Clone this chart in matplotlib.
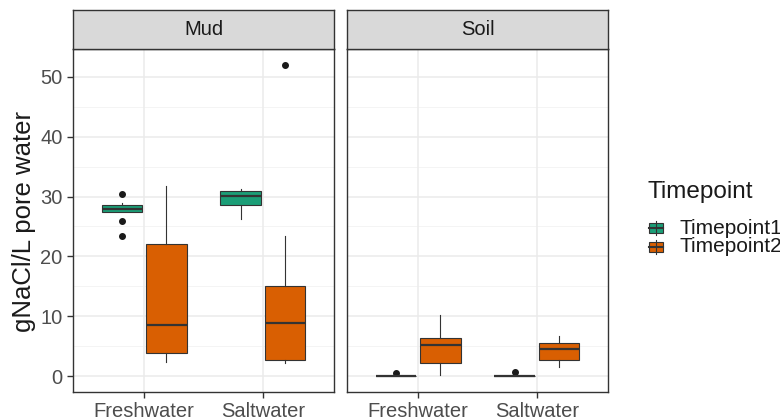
import numpy as np
import matplotlib.pyplot as plt

plt.rcParams['font.family'] = ['Liberation Sans', 'DejaVu Sans']

# box summaries read per facet / site / timepoint
sites = ['Freshwater', 'Saltwater']
facets = ['Mud', 'Soil']
timepoints = ['Timepoint1', 'Timepoint2']
colors = {'Timepoint1': '#1B9E77', 'Timepoint2': '#D95F02'}

# (whislo, q1, med, q3, whishi, outliers)
mud_t1 = [(27.4, 27.4, 28.0, 28.6, 28.9, [30.4, 25.9, 23.4]),
          (26.3, 28.6, 30.1, 31.0, 31.2, [])]
mud_t2 = [(2.4, 3.9, 8.5, 22.1, 31.8, []),
          (2.3, 2.7, 8.85, 15.0, 23.4, [51.9])]
soil_t1 = [(0.0, 0.0, 0.05, 0.1, 0.1, [0.5]),
           (0.0, 0.05, 0.1, 0.15, 0.15, [0.8])]
soil_t2 = [(0.2, 2.3, 5.2, 6.4, 10.2, []),
           (1.55, 2.7, 4.5, 5.5, 6.8, [])]
data = {'Mud': {'Timepoint1': mud_t1, 'Timepoint2': mud_t2},
        'Soil': {'Timepoint1': soil_t1, 'Timepoint2': soil_t2}}

W, H = 780, 419
fig = plt.figure(figsize=(W / 100, H / 100), dpi=100)

def px_axes(l, t, r, b):
    return fig.add_axes([l / W, 1 - b / H, (r - l) / W, (b - t) / H])

dark = '#333333'
panels = [(73, 334), (347, 608)]
for i, (facet, (l, r)) in enumerate(zip(facets, panels)):
    ax = px_axes(l, 49, r, 392)
    ax.set_xlim(0.4, 2.6)
    ax.set_ylim(-2.6, 54.6)
    for y in np.arange(5, 55, 10):
        ax.axhline(y, color='#F2F2F2', lw=0.6, zorder=0)
    for y in np.arange(0, 55, 10):
        ax.axhline(y, color='#EBEBEB', lw=1.1, zorder=0)
    for x in [1, 2]:
        ax.axvline(x, color='#EBEBEB', lw=1.1, zorder=0)

    for j, tp in enumerate(timepoints):
        stats = []
        for s in data[facet][tp]:
            lo, q1, med, q3, hi, fl = s
            stats.append(dict(whislo=lo, q1=q1, med=med, q3=q3, whishi=hi, fliers=fl))
        pos = np.arange(1, 3) + (j - 0.5) * 0.375
        ax.bxp(stats, positions=pos, widths=0.34, patch_artist=True, showcaps=False,
               boxprops=dict(facecolor=colors[tp], edgecolor=dark, lw=0.8),
               medianprops=dict(color=dark, lw=1.6),
               whiskerprops=dict(color=dark, lw=0.8),
               flierprops=dict(marker='o', markerfacecolor='#1A1A1A',
                               markeredgecolor='#1A1A1A', markersize=4))

    ax.set_xticks([1, 2])
    ax.set_xticklabels(sites)
    ax.set_yticks(np.arange(0, 55, 10))
    ax.tick_params(colors='#333333', length=4, width=1, labelsize=14.5,
                   labelcolor='#4D4D4D')
    if i > 0:
        ax.tick_params(axis='y', left=False, labelleft=False)
    for sp in ax.spines.values():
        sp.set_color(dark)
        sp.set_linewidth(1)

    st = px_axes(l, 10, r, 49)
    st.set_facecolor('#D9D9D9')
    st.set_xticks([])
    st.set_yticks([])
    for sp in st.spines.values():
        sp.set_color(dark)
        sp.set_linewidth(1)
    st.text(0.5, 0.5, facet, ha='center', va='center', fontsize=14.5, color='#1A1A1A')

fig.text(24 / W, 1 - 222 / H, 'gNaCl/L pore water', rotation=90, ha='center',
         va='center', fontsize=18.5, color='#1A1A1A')

# legend
fig.text(648 / W, 1 - 192 / H, 'Timepoint', ha='left', va='center', fontsize=17.5,
         color='#1A1A1A')
lg = px_axes(645, 218, 780, 258)
lg.set_xlim(0, 135)
lg.set_ylim(40, 0)
lg.axis('off')
for k, tp in enumerate(timepoints):
    yc = 10 + k * 19
    lg.plot([11, 11], [yc - 7, yc + 7], color=dark, lw=0.8)
    lg.add_patch(plt.Rectangle((4, yc - 5), 14, 10, facecolor=colors[tp],
                               edgecolor=dark, lw=0.8))
    lg.plot([4, 18], [yc, yc], color=dark, lw=1.5)
    lg.text(34, yc, tp, ha='left', va='center', fontsize=15, color='#1A1A1A')

fig.savefig('out.png', dpi=100)
